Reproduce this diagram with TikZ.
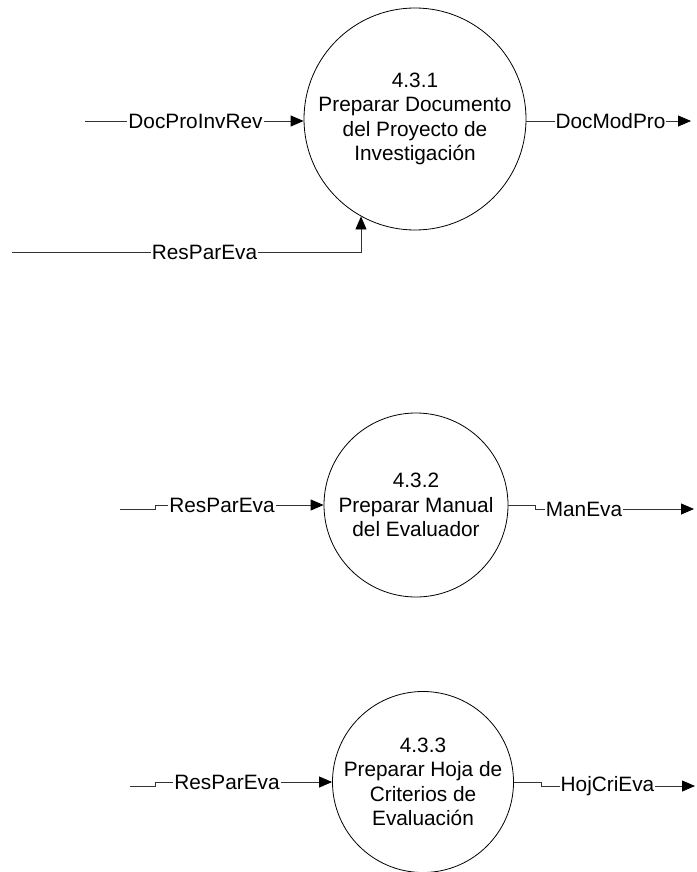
\documentclass[tikz,border=0pt]{standalone}
\usepackage{fontspec}
\setmainfont{Liberation Sans}
\usetikzlibrary{arrows.meta}
\begin{document}
\begin{tikzpicture}[x=1pt,y=-1pt,
  proc/.style={draw=black,line width=0.8pt,circle,inner sep=0pt,align=center,
    font=\fontsize{20.8}{24.4}\selectfont},
  flow/.style={draw=black!80,line width=0.8pt,-{Triangle[length=13pt,width=11pt,fill=black,color=black]}},
  lbl/.style={fill=white,inner sep=1pt,font=\fontsize{20.8}{24.4}\selectfont}]
\useasboundingbox[fill=white] (0,0) rectangle (696,872);

% processes
\node[proc,minimum size=222pt] (c1) at (415,119) {4.3.1\\Preparar Documento\\del Proyecto de\\Investigación};
\node[proc,minimum size=184pt] (c2) at (416,505) {4.3.2\\Preparar Manual\\del Evaluador};
\node[proc,minimum size=180pt] (c3) at (423,782) {4.3.3\\Preparar Hoja de\\Criterios de\\Evaluación};

% free ends
\coordinate (in1) at (85,121);
\coordinate (out1) at (691,121);
\coordinate (rin1) at (12,252);
\coordinate (in2) at (120,509);
\coordinate (out2) at (694,509);
\coordinate (in3) at (130,786);
\coordinate (out3) at (695,786);

% flows for 4.3.1
\draw[flow] (in1) -- (in1 -| c1.west);
\node[lbl] (l1) at (195.5,121) {DocProInvRev};
\draw[flow] (c1.east |- out1) -- (out1);
\node[lbl] (l2) at (610.5,121) {DocModPro};
\draw[flow] (rin1) -| (c1.-119);
\node[lbl] (l3) at (204.5,252) {ResParEva};

% flows for 4.3.2
\draw[flow] (in2) -- ++(35,0) |- (c2.west);
\node[lbl] (l4) at (222,505) {ResParEva};
\draw[flow] (c2.east) -- ++(27,0) |- (out2);
\node[lbl] (l5) at (584,509) {ManEva};

% flows for 4.3.3
\draw[flow] (in3) -- ++(25,0) |- (c3.west);
\node[lbl] (l6) at (227,782) {ResParEva};
\draw[flow] (c3.east) -- ++(27,0) |- (out3);
\node[lbl] (l7) at (607.5,786) {HojCriEva};
\end{tikzpicture}
\end{document}
